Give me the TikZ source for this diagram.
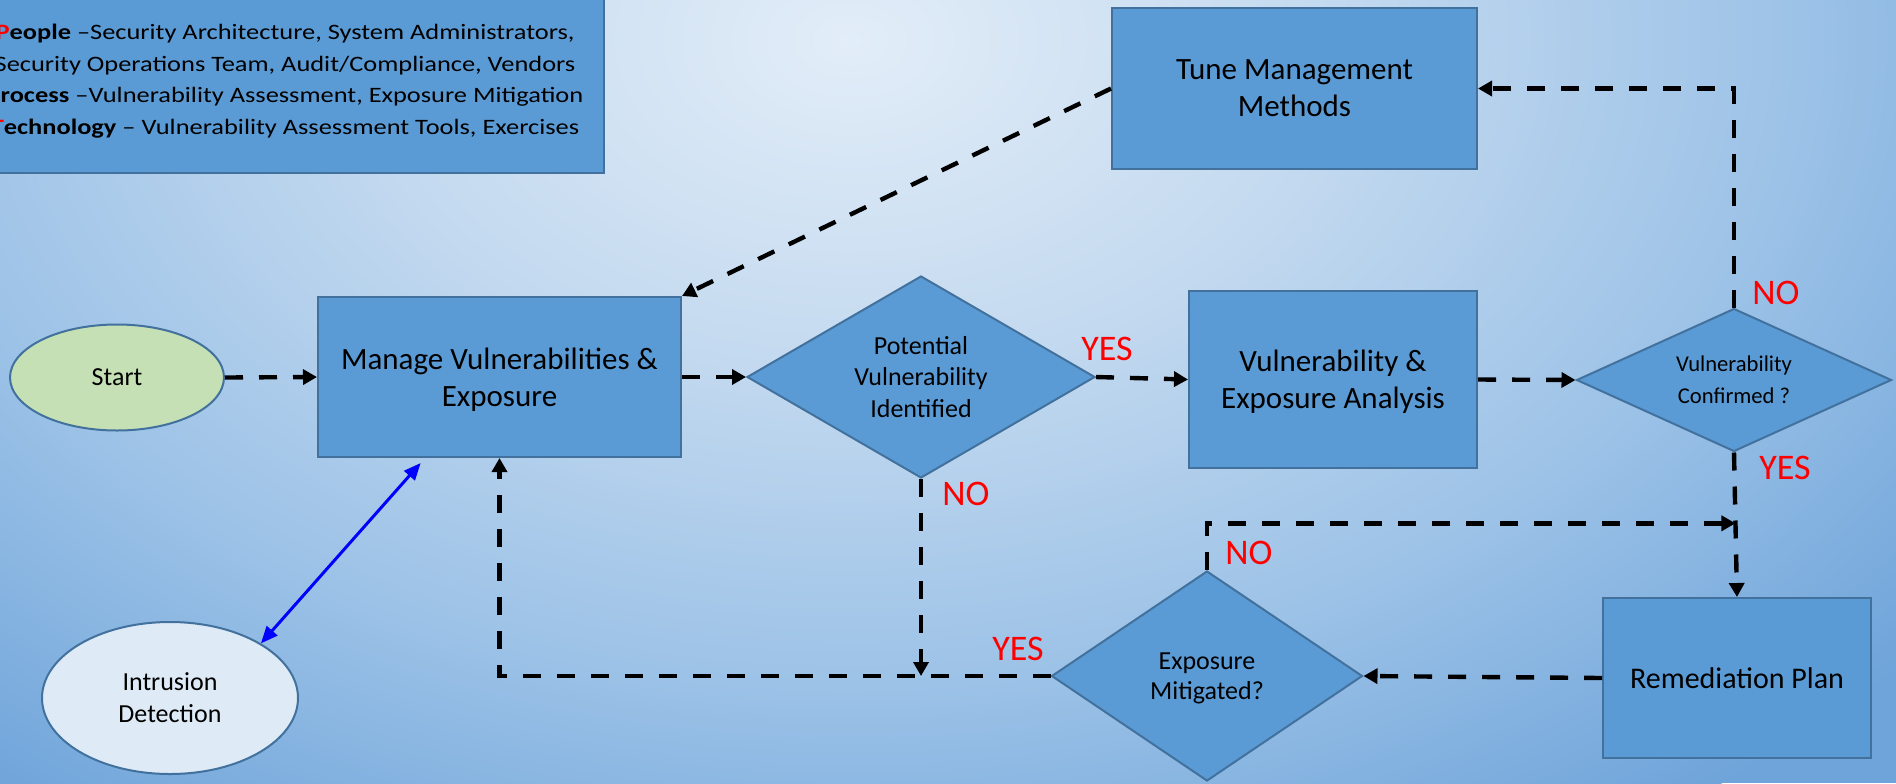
\documentclass[tikz,border=0pt]{standalone}
\usepackage{fontspec}
\setmainfont{Carlito}
\newfontfamily\legendfont[FakeStretch=1.2]{Carlito}
\usetikzlibrary{shapes.geometric,arrows.meta,calc}
\definecolor{boxfill}{HTML}{5B9BD5}
\definecolor{boxline}{HTML}{41719C}
\definecolor{startfill}{HTML}{C5E0B4}
\definecolor{idfill}{HTML}{DEEBF7}
\definecolor{bg0}{HTML}{E2EDF8}
\definecolor{bg1}{HTML}{C6DBF0}
\definecolor{bg2}{HTML}{9CC2E7}
\definecolor{bg3}{HTML}{6FA4DA}
\pgfdeclareradialshading{backdrop}{\pgfpoint{0bp}{0bp}}{color(0bp)=(bg0); color(8bp)=(bg1); color(17bp)=(bg2); color(25bp)=(bg3); color(50bp)=(bg3)}
\begin{document}
\begin{tikzpicture}[x=0.5pt,y=-0.5pt,
  proc/.style={rectangle, draw=boxline, line width=1pt, fill=boxfill, inner sep=0pt,
    align=center, text depth=-2.5pt, font=\fontsize{15.5}{18.5}\selectfont},
  dec/.style={diamond, draw=boxline, line width=1pt, fill=boxfill, inner sep=0pt, align=center},
  oval/.style={ellipse, draw=boxline, line width=1pt, inner sep=0pt, align=center,
    font=\fontsize{13}{16}\selectfont},
  flow/.style={draw=black, line width=2.2pt, dash pattern=on 9pt off 8pt,
    -{Triangle[length=7pt,width=7.5pt]}},
  biarrow/.style={draw=blue, line width=1.5pt,
    {Triangle[length=8.5pt,width=7pt]}-{Triangle[length=8.5pt,width=7pt]}},
  answer/.style={text=red, inner sep=0pt, font=\fontsize{18}{21.6}\selectfont}]
\useasboundingbox (0,0) rectangle (1896,783);
\clip (0,0) rectangle (1896,783);
% backdrop
\fill[bg3] (0,0) rectangle (1896,783);
\shade[shading=backdrop] (850,40) ellipse [x radius=700pt, y radius=475pt];

% legend
\node[rectangle, draw=boxline, line width=1pt, fill=boxfill, inner sep=0pt,
  minimum width=319pt, minimum height=92pt, align=center,
  font=\legendfont\fontsize{11}{15.85}\selectfont] (legend) at (285,81)
  {\textbf{\textcolor{red}{P}eople} –Security Architecture, System Administrators,\\
   Security Operations Team, Audit/Compliance, Vendors\\
   \textbf{\textcolor{red}{P}rocess} –Vulnerability Assessment, Exposure Mitigation\\
   \textbf{\textcolor{red}{T}echnology} – Vulnerability Assessment Tools, Exercises};

% process boxes
\node[proc, minimum width=181.5pt, minimum height=80pt] (manage) at (499.5,377)
  {Manage Vulnerabilities \&\\Exposure};
\node[proc, minimum width=144pt, minimum height=88.5pt] (vea) at (1333,379.5)
  {Vulnerability \&\\Exposure Analysis};
\node[proc, minimum width=182.5pt, minimum height=80.5pt, text depth=-5pt] (tune) at (1294.5,88.5)
  {Tune Management\\Methods};
\node[proc, minimum width=134pt, minimum height=80pt, text depth=, font=\fontsize{15}{18}\selectfont]
  (rem) at (1737,678) {Remediation Plan};

% decisions
\node[dec, aspect=1.72, minimum width=174pt, minimum height=101pt,
  font=\fontsize{13}{15.85}\selectfont] (pv) at (921,377)
  {Potential\\Vulnerability\\Identified};
\node[dec, aspect=2.2, minimum width=157.5pt, minimum height=71.5pt,
  font=\fontsize{11.3}{15.85}\selectfont] (vc) at (1734,380)
  {Vulnerability\\Confirmed ?};
\node[dec, aspect=1.48, minimum width=155.5pt, minimum height=105pt, text depth=-0.5pt,
  font=\fontsize{13}{15}\selectfont] (em) at (1207,676)
  {Exposure\\Mitigated?};

% terminals
\node[oval, fill=startfill, minimum width=107pt, minimum height=53pt] (start) at (117,377.5) {Start};
\node[oval, fill=idfill, minimum width=128pt, minimum height=76pt] (intr) at (170,698) {Intrusion\\Detection};

% flow
\draw[flow] (start.east) -- (manage.west);
\draw[flow] (manage.east) -- (pv.west);
\draw[flow] (pv.east) -- (vea.west);
\draw[flow] (vea.east) -- (vc.west);
\draw[flow] (vc.north) |- (tune.east);
\draw[flow] (tune.west) -- (manage.north east);
\draw[flow] (vc.south) -- (rem.north);
\draw[flow] (rem.west) -- (em.east);
\coordinate (merge) at ($(vc.south)!0.49!(rem.north)$);
\draw[flow] (em.north) |- (merge);
\draw[flow] (em.west) -| (manage.south);
\draw[flow] (pv.south) -- (pv.south |- em.west);

% intrusion detection link
\coordinate (idlink) at ([yshift=-2.5pt]$(manage.south west)!0.284!(manage.south east)$);
\draw[biarrow] (idlink) -- (intr.31);

% answers
\node[answer] (yes1) at (1107,349) {YES};
\node[answer] (no1) at (966,494) {NO};
\node[answer] (no2) at (1249,553) {NO};
\node[answer] (yes2) at (1018,649) {YES};
\node[answer] (no3) at (1776,293) {NO};
\node[answer] (yes3) at (1785,467.5) {YES};
\end{tikzpicture}
\end{document}
